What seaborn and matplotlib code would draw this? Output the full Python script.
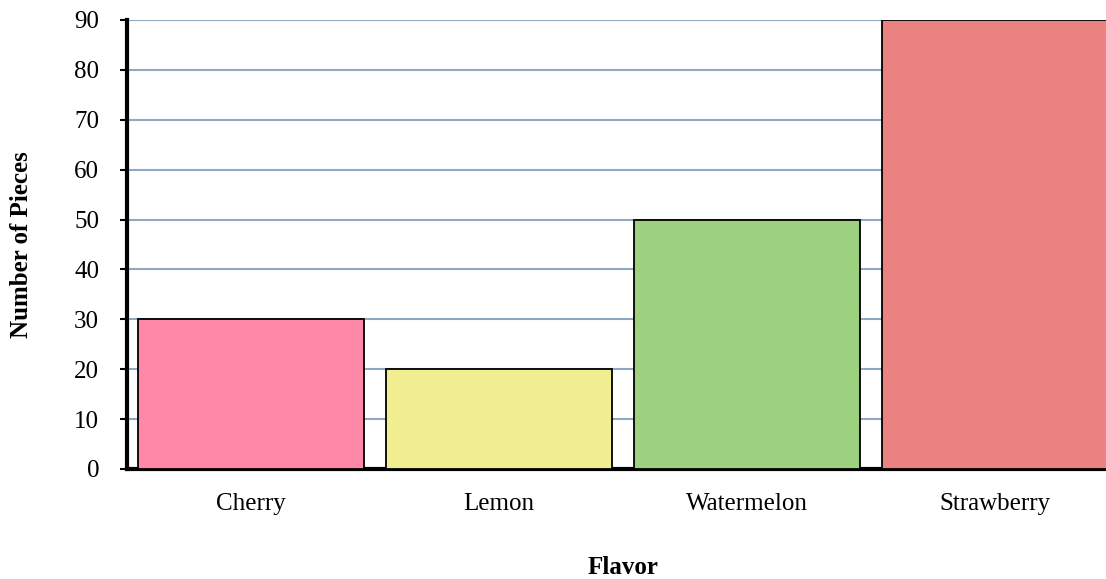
import pandas as pd
import seaborn as sns
import matplotlib.pyplot as plt

# datos
flavors = ["Cherry", "Lemon", "Watermelon", "Strawberry"]
pieces = [30, 20, 50, 90]
colors = ["#FF88A8", "#F0EE90", "#9DD17F", "#EA8282"]

df = pd.DataFrame({"Flavor": flavors, "Pieces": pieces})

sns.set_style("white")
plt.rcParams["font.family"] = ["Liberation Serif", "DejaVu Serif"]
plt.rcParams["text.color"] = "black"
plt.rcParams["xtick.color"] = "black"
plt.rcParams["ytick.color"] = "black"
plt.rcParams["axes.labelcolor"] = "black"

fig = plt.figure(figsize=(11.06, 5.79), dpi=100)
ax = fig.add_axes([0.1148, 0.19, 0.897, 0.7755])

sns.barplot(data=df, x="Flavor", y="Pieces", hue="Flavor", palette=colors,
            legend=False, width=0.915, edgecolor="black", linewidth=1.3,
            saturation=1, ax=ax, zorder=3)

ax.set_ylim(0, 90)
ax.set_xlim(-0.5, 3.5)
ax.set_yticks(range(0, 91, 10))
ax.yaxis.grid(True, color="#8EA9C1", linewidth=1.5, zorder=0)
ax.set_axisbelow(True)

for s in ["top", "right"]:
    ax.spines[s].set_visible(False)
ax.spines["left"].set_linewidth(3)
ax.spines["bottom"].set_linewidth(3)
ax.spines["left"].set_color("black")
ax.spines["bottom"].set_color("black")

ax.tick_params(axis="y", which="both", left=True, length=5, width=1.5,
               direction="out", labelsize=18, pad=15)
ax.tick_params(axis="x", bottom=False, labelsize=18, pad=14)

ax.set_xlabel("Flavor", fontsize=18, fontweight="bold", va="center")
ax.set_ylabel("Number of Pieces", fontsize=18, fontweight="bold", va="center")
ax.xaxis.set_label_coords(0.5, (469 - 568) / 449)
ax.yaxis.set_label_coords((22 - 127) / 992, 0.5)

fig.savefig("out.png", dpi=100)
